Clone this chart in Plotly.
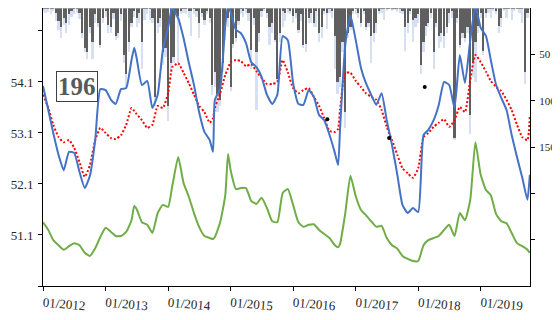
import plotly.graph_objects as go

# semi-monthly bars (right axis, hanging from top), values in mm
bar_grey = [1, 1, 1, 1, 1, 5, 14, 21, 11, 16,
            7, 3, 1, 1, 5, 27, 43, 48, 21, 37,
            7, 16, 40, 11, 3, 18, 21, 5, 30, 27,
            7, 51, 71, 37, 16, 3, 11, 5, 37, 1,
            1, 1, 11, 96, 16, 11, 48, 43, 106, 59,
            53, 5, 9, 3, 1, 1, 3, 3, 1, 3,
            16, 5, 13, 3, 11, 83, 69, 93, 99, 59,
            19, 11, 85, 39, 32, 14, 1, 3, 1, 5,
            45, 11, 48, 27, 3, 1, 5, 21, 16, 35,
            77, 27, 3, 5, 1, 3, 9, 5, 24, 7,
            40, 39, 11, 5, 16, 3, 27, 21, 3, 5,
            1, 3, 30, 80, 74, 37, 112, 27, 21, 3,
            1, 5, 16, 3, 21, 16, 30, 27, 16, 3,
            1, 1, 1, 1, 1, 1, 1, 1, 3, 21,
            16, 3, 13, 11, 7, 62, 37, 19, 16, 5,
            48, 16, 30, 27, 30, 21, 5, 3, 140, 11,
            40, 27, 32, 21, 115, 59, 37, 19, 5, 46,
            5, 1, 1, 1, 3, 19, 11, 1, 1, 1,
            1, 1, 1, 1, 1, 69, 5]
bar_light = [3, 5, 4, 7, 3, 14, 24, 32, 18, 27,
             18, 10, 7, 5, 12, 32, 48, 55, 27, 55,
             16, 21, 43, 16, 10, 27, 27, 12, 34, 32,
             14, 59, 87, 48, 21, 10, 21, 16, 66, 13,
             7, 13, 16, 106, 27, 21, 62, 53, 122, 69,
             59, 11, 59, 7, 5, 7, 11, 30, 7, 10,
             32, 10, 18, 7, 16, 94, 85, 112, 106, 69,
             34, 21, 90, 43, 37, 18, 7, 10, 5, 14,
             66, 18, 110, 37, 10, 3, 11, 40, 27, 37,
             80, 37, 21, 14, 5, 7, 16, 11, 27, 14,
             43, 48, 16, 16, 21, 21, 37, 32, 7, 23,
             5, 11, 66, 93, 85, 48, 130, 32, 24, 7,
             7, 11, 21, 7, 24, 21, 59, 37, 27, 7,
             5, 13, 3, 1, 3, 2, 4, 5, 7, 46,
             27, 7, 37, 21, 16, 71, 48, 30, 21, 11,
             66, 21, 43, 37, 43, 27, 16, 11, 142, 16,
             43, 32, 37, 27, 136, 74, 80, 27, 11, 51,
             11, 5, 11, 3, 7, 27, 21, 3, 11, 1,
             13, 3, 1, 5, 16, 82, 11]
bar_dates = ["%d-%02d-%02d" % (2012 + (i // 2) // 12, (i // 2) % 12 + 1, 1 if i % 2 == 0 else 16)
             for i in range(len(bar_grey))]

# monthly levels + a few extra dates at sharp peaks
extra_dates = ["2013-06-17", "2014-01-24", "2014-09-20", "2014-12-17", "2016-09-20", "2019-10-15"]
line_dates = sorted(["%d-%02d-01" % (2012 + m // 12, m % 12 + 1) for m in range(94)] + extra_dates)

blue = [54.02, 53.55, 53.10, 52.67, 52.37, 52.73, 52.71, 52.34, 52.02, 52.26,
        52.96, 53.96, 53.94, 53.75, 53.67, 53.96, 53.98, 54.53, 54.77,
        54.57, 54.04, 54.12, 53.59, 53.85, 54.73, 55.16, 55.58,
        55.52, 55.35, 54.96, 54.49, 54.04, 53.51, 53.12, 52.96, 52.73,
        53.75, 53.98, 55.22, 55.59,
        55.47, 55.12, 55.06, 54.86, 54.49, 54.39, 54.20, 53.85, 53.67, 53.85,
        55.00, 54.92, 54.08, 53.67, 53.65, 53.94, 53.81, 53.45, 53.35, 53.06, 52.71, 52.47,
        53.16, 54.83, 55.41, 54.92, 54.37, 54.08, 53.85, 53.65, 53.88, 53.35,
        52.86, 52.28, 51.69, 51.53, 51.63, 51.55, 53.06, 53.16, 53.35, 53.65,
        54.10, 54.04, 53.59, 54.63, 54.08, 54.92, 55.60, 55.16, 55.00, 54.53,
        54.04, 53.79, 53.55, 53.06, 52.63, 52.22, 51.79, 52.28]
red = [53.85, 53.59, 53.26, 53.02, 52.92, 52.96, 52.81, 52.53, 52.24, 52.47,
       52.96, 53.20, 53.10, 53.00, 52.98, 53.06, 53.26, 53.59, 53.53,
       53.47, 53.35, 53.20, 53.26, 53.63, 53.59, 53.88, 54.39,
       54.41, 54.47, 54.28, 54.08, 53.85, 53.63, 53.51, 53.30, 53.39,
       53.59, 53.88, 54.24, 54.37,
       54.49, 54.53, 54.51, 54.41, 54.45, 54.31, 54.18, 54.06, 54.06, 54.10,
       54.53, 54.29, 53.98, 53.88, 53.94, 53.98, 53.81, 53.63, 53.39, 53.14, 53.12, 53.18,
       53.55, 54.28, 54.28, 54.12, 54.00, 53.88, 53.81, 53.75, 53.55, 53.22,
       52.96, 52.67, 52.41, 52.31, 52.22, 52.41, 53.02, 53.10, 53.22, 53.30,
       53.37, 53.22, 53.35, 53.61, 53.51, 54.14, 54.63, 54.49, 54.30, 54.12,
       54.00, 53.92, 53.75, 53.55, 53.26, 53.02, 52.96, 53.45]
green = [51.35, 51.20, 51.00, 50.90, 50.81, 50.88, 50.94, 50.90, 50.75, 50.69,
         50.84, 51.06, 51.24, 51.16, 51.08, 51.08, 51.16, 51.39, 51.67,
         51.61, 51.35, 51.30, 51.14, 51.53, 51.69, 51.65, 52.04,
         52.18, 52.63, 52.12, 51.86, 51.53, 51.26, 51.08, 51.04, 51.02,
         51.06, 51.35, 51.88, 52.69,
         52.37, 52.00, 52.02, 52.02, 51.77, 51.71, 51.83, 51.63, 51.37, 51.35,
         51.92, 52.00, 51.69, 51.35, 51.26, 51.30, 51.31, 51.20, 51.12, 51.04, 50.90, 50.86,
         50.92, 51.53, 52.26, 51.86, 51.59, 51.49, 51.37, 51.26, 51.28, 51.04,
         50.90, 50.83, 50.69, 50.63, 50.59, 50.59, 50.90, 51.00, 51.04, 51.08,
         51.20, 51.30, 51.08, 51.53, 51.39, 51.79, 52.92, 52.28, 51.98, 51.88,
         51.51, 51.37, 51.33, 51.14, 50.94, 50.88, 50.81, 50.75]
assert len(blue) == len(red) == len(green) == len(line_dates), (len(blue), len(red), len(green), len(line_dates))

dot_dates = ["2016-07-19", "2017-07-15", "2018-02-08"]
dot_vals = [53.37, 53.00, 54.00]

year_ticks = ["%d-01-01" % y for y in range(2012, 2020)]
year_labels = ["01/%d" % y for y in range(2012, 2020)]
left_ticks = [50.1, 51.1, 52.1, 53.1, 54.1, 55.1]
left_labels = ["", "51.1", "52.1", "53.1", "54.1", ""]
right_ticks = [50, 100, 150, 200, 250]
right_labels = ["50", "100", "150", "", ""]

FONT = "Liberation Serif"
bw = 13 * 86400000
smooth = dict(shape="spline", smoothing=0.5)

fig = go.Figure()
fig.add_trace(go.Bar(x=bar_dates, y=bar_light, width=bw, marker=dict(color="#d6e0f2", line_width=0), yaxis="y"))
fig.add_trace(go.Bar(x=bar_dates, y=bar_grey, width=bw, marker=dict(color="#5f5f5f", line_width=0), yaxis="y"))
fig.add_trace(go.Scatter(x=line_dates, y=green, mode="lines", line=dict(color="#70ad47", width=2, **smooth), yaxis="y2"))
fig.add_trace(go.Scatter(x=line_dates, y=red, mode="lines",
                         line=dict(color="#ff0000", width=2, dash="2px,2px", **smooth), yaxis="y2"))
fig.add_trace(go.Scatter(x=line_dates, y=blue, mode="lines", line=dict(color="#4472c4", width=2, **smooth), yaxis="y2"))
fig.add_trace(go.Scatter(x=dot_dates, y=dot_vals, mode="markers", marker=dict(color="black", size=4), yaxis="y2"))

# page body adds 8px, so the figure is 8px smaller than the window
fig.update_layout(
    width=552, height=312,
    margin=dict(l=35, r=30, t=0, b=34),
    paper_bgcolor="white", plot_bgcolor="white",
    showlegend=False, barmode="overlay", bargap=0,
    font=dict(family=FONT, size=12, color="#262626"),
    xaxis=dict(type="date", range=["2012-01-01", "2019-10-16"],
               tickvals=year_ticks, ticktext=year_labels, tickangle=5,
               ticks="outside", ticklen=4, tickcolor="black",
               showline=True, linecolor="black", linewidth=1,
               showgrid=False, zeroline=False, tickfont=dict(size=13)),
    yaxis=dict(side="right", range=[300, 0], tickvals=right_ticks, ticktext=right_labels,
               ticks="outside", ticklen=4, tickcolor="black", ticklabelstandoff=2,
               showline=True, linecolor="black", linewidth=1,
               showgrid=False, zeroline=False, tickfont=dict(size=11)),
    yaxis2=dict(side="left", overlaying="y", range=[50.1, 55.55],
                tickvals=left_ticks, ticktext=left_labels,
                ticks="outside", ticklen=4, tickcolor="black", ticklabelstandoff=2,
                showline=True, linecolor="black", linewidth=1,
                showgrid=False, zeroline=False, tickfont=dict(size=13)),
)
fig.add_shape(type="line", xref="paper", yref="paper", x0=0, x1=1, y0=1, y1=1,
              line=dict(color="#bfbfbf", width=1))
fig.add_annotation(xref="paper", yref="paper", x=0.0698, y=0.719, xanchor="center", yanchor="middle",
                   text="<b>196</b>", showarrow=False,
                   font=dict(family=FONT, size=25, color="#595959"),
                   bordercolor="#404040", borderwidth=1, borderpad=1, bgcolor="white")

fig.write_html("out.html")
